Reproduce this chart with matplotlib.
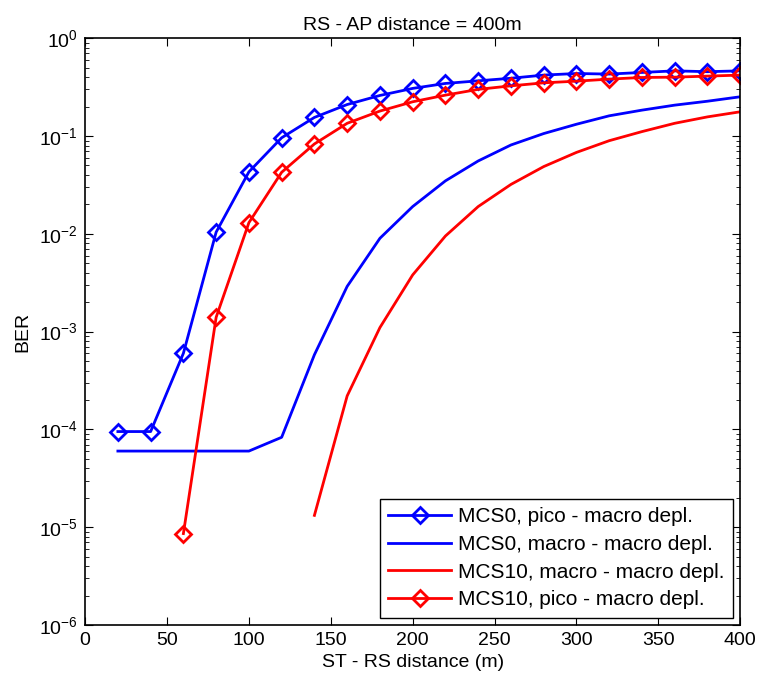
import numpy as np
from matplotlib import pyplot as plt

plt.rcParams['font.family'] = ['Liberation Sans', 'DejaVu Sans']
plt.rcParams['mathtext.fontset'] = 'custom'
plt.rcParams['mathtext.rm'] = 'Liberation Sans'
plt.rcParams['mathtext.default'] = 'regular'

# ST - RS distance (m)
dist = list(range(20, 401, 20))
dist_mcs10_macro = list(range(140, 401, 20))
dist_mcs10_pico = list(range(60, 401, 20))

# BER values
ber_mcs0_pico = [9.5e-5, 9.5e-5, 6.0e-4, 1.04e-2, 0.043, 0.096, 0.155, 0.21, 0.26,
                 0.307, 0.345, 0.367, 0.39, 0.42, 0.436, 0.43, 0.447, 0.464, 0.455, 0.464]
ber_mcs0_macro = [6.0e-5, 6.0e-5, 6.0e-5, 6.0e-5, 6.0e-5, 8.3e-5, 5.8e-4, 2.9e-3, 9.0e-3,
                  0.019, 0.0348, 0.0556, 0.081, 0.106, 0.132, 0.161, 0.184, 0.207, 0.227, 0.252]
ber_mcs10_macro = [1.32e-5, 2.2e-4, 1.1e-3, 3.8e-3, 9.5e-3, 0.019, 0.032, 0.0487, 0.068,
                   0.0896, 0.111, 0.135, 0.157, 0.177]
ber_mcs10_pico = [8.6e-6, 1.4e-3, 0.013, 0.0426, 0.083, 0.135, 0.18, 0.224, 0.262, 0.30,
                  0.326, 0.35, 0.364, 0.382, 0.397, 0.40, 0.41, 0.42]

fig = plt.figure(figsize=(7.6, 6.83), dpi=100)
ax = fig.add_axes([0.112, 0.0850, 0.862, 0.859])

mk = dict(marker='D', markersize=8.5, markerfacecolor='none', markeredgewidth=2)
ax.plot(dist, ber_mcs0_pico, color='#0000ff', lw=2, label='MCS0, pico - macro depl.', **mk)
ax.plot(dist, ber_mcs0_macro, color='#0000ff', lw=2, label='MCS0, macro - macro depl.')
ax.plot(dist_mcs10_macro, ber_mcs10_macro, color='#ff0000', lw=2, label='MCS10, macro - macro depl.')
ax.plot(dist_mcs10_pico, ber_mcs10_pico, color='#ff0000', lw=2, label='MCS10, pico - macro depl.', **mk)

ax.set_yscale('log')
ax.set_xlim(0, 400)
ax.set_ylim(1e-6, 1)
ax.set_xticks(np.arange(0, 401, 50))
ax.tick_params(which='both', direction='in', top=True, right=True, labelsize=14)
ax.tick_params(which='major', length=6, pad=5)
ax.tick_params(which='minor', length=3)
for s in ax.spines.values():
    s.set_linewidth(1.2)

ax.set_title('RS - AP distance = 400m', fontsize=14, pad=6)
ax.set_xlabel('ST - RS distance (m)', fontsize=14, labelpad=4)
ax.set_ylabel('BER', fontsize=14, labelpad=6)

leg = ax.legend(loc='lower right', fontsize=15, fancybox=False, framealpha=1,
                edgecolor='black', borderaxespad=0.35, handlelength=3.0,
                handletextpad=0.35, labelspacing=0.42, borderpad=0.4)
leg.get_frame().set_linewidth(1.0)

plt.savefig('out.png', dpi=100)
